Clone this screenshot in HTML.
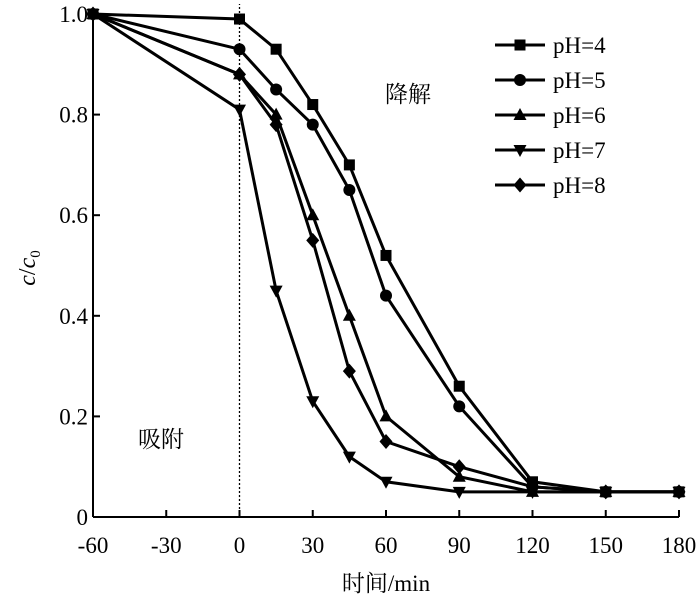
<!DOCTYPE html>
<html><head><meta charset="utf-8"><style>body{margin:0;background:#fff}svg{display:block}text{font-family:"Liberation Serif","Noto Serif CJK SC",serif;fill:#000}</style></head>
<body>
<svg id="c" width="700" height="601" viewBox="0 0 700 601"></svg>
<script>
const xs=[-60,0,15,30,45,60,90,120,150,180];
const pH4=[1.0,0.99,0.93,0.82,0.70,0.52,0.26,0.07,0.05,0.05];
const pH5=[1.0,0.93,0.85,0.78,0.65,0.44,0.22,0.06,0.05,0.05];
const pH6=[1.0,0.88,0.80,0.60,0.40,0.20,0.08,0.05,0.05,0.05];
const pH7=[1.0,0.81,0.45,0.23,0.12,0.07,0.05,0.05,0.05,0.05];
const pH8=[1.0,0.88,0.78,0.55,0.29,0.15,0.10,0.06,0.05,0.05];
const xTicks=[-60,-30,0,30,60,90,120,150,180];
const yTicks=[0,0.2,0.4,0.6,0.8,1.0];
const yLabels=["0","0.2","0.4","0.6","0.8","1.0"];
const names=["pH=4","pH=5","pH=6","pH=7","pH=8"];
const series=[pH4,pH5,pH6,pH7,pH8];
const markers=["square","circle","up","down","diamond"];
const NS="http://www.w3.org/2000/svg",svg=document.getElementById('c');
const X=v=>93+(v+60)*(679-93)/240, Y=v=>517-v*(517-14);
function el(t,a,p){const e=document.createElementNS(NS,t);for(const k in a)e.setAttribute(k,a[k]);(p||svg).appendChild(e);return e;}
function mark(type,x,y,g){
 if(type=="square")return el('rect',{x:x-5.5,y:y-5.5,width:11,height:11,fill:'#000'},g);
 if(type=="circle")return el('circle',{cx:x,cy:y,r:6,fill:'#000'},g);
 if(type=="up")return el('polygon',{points:`${x},${y-7} ${x+6.5},${y+5} ${x-6.5},${y+5}`,fill:'#000'},g);
 if(type=="down")return el('polygon',{points:`${x},${y+7} ${x+6.5},${y-5} ${x-6.5},${y-5}`,fill:'#000'},g);
 return el('polygon',{points:`${x},${y-7.5} ${x+6.5},${y} ${x},${y+7.5} ${x-6.5},${y}`,fill:'#000'},g);
}
let a=el('line',{x1:X(-60),y1:Y(0),x2:X(180),y2:Y(0),stroke:'#000','stroke-width':2});

a=el('line',{x1:X(-60),y1:Y(0),x2:X(-60),y2:Y(1.0)-4,stroke:'#000','stroke-width':2});

xTicks.forEach(v=>{el('line',{x1:X(v),y1:Y(0),x2:X(v),y2:Y(0)-7,stroke:'#000','stroke-width':2});
 const t=el('text',{x:X(v),y:553,'text-anchor':'middle','font-size':23});t.textContent=v;
 });
yTicks.forEach((v,i)=>{el('line',{x1:X(-60),y1:Y(v),x2:X(-60)+7,y2:Y(v),stroke:'#000','stroke-width':2});
 const t=el('text',{x:X(-60)-5,y:Y(v)+8,'text-anchor':'end','font-size':23});t.textContent=yLabels[i];
 });
a=el('line',{x1:X(0),y1:Y(0),x2:X(0),y2:4,stroke:'#000','stroke-width':1.3,'stroke-dasharray':'2,2'});

series.forEach((s,i)=>{const g=el('g',{});
 el('polyline',{points:s.map((v,j)=>X(xs[j])+','+Y(v)).join(' '),fill:'none',stroke:'#000','stroke-width':3},g);
 s.forEach((v,j)=>mark(markers[i],X(xs[j]),Y(v),g));
 const lg=el('g',{});
 const ly=45+i*35;
 el('line',{x1:495,y1:ly,x2:545,y2:ly,stroke:'#000','stroke-width':3},lg);mark(markers[i],520,ly,lg);
 const t=el('text',{x:553,y:ly+8,'font-size':23},lg);t.textContent=names[i];});
let t=el('text',{x:385,y:102,'font-size':23});t.textContent='降解';
t=el('text',{x:138,y:447,'font-size':23});t.textContent='吸附';
t=el('text',{x:386,y:591,'text-anchor':'middle','font-size':23});t.textContent='时间/min';
t=el('text',{transform:'translate(35,268) rotate(-90)','text-anchor':'middle','font-size':24});
t.innerHTML='<tspan font-style="italic">c</tspan>/<tspan font-style="italic">c</tspan><tspan font-size="15" dy="5">0</tspan>';

</script>
</body></html>
